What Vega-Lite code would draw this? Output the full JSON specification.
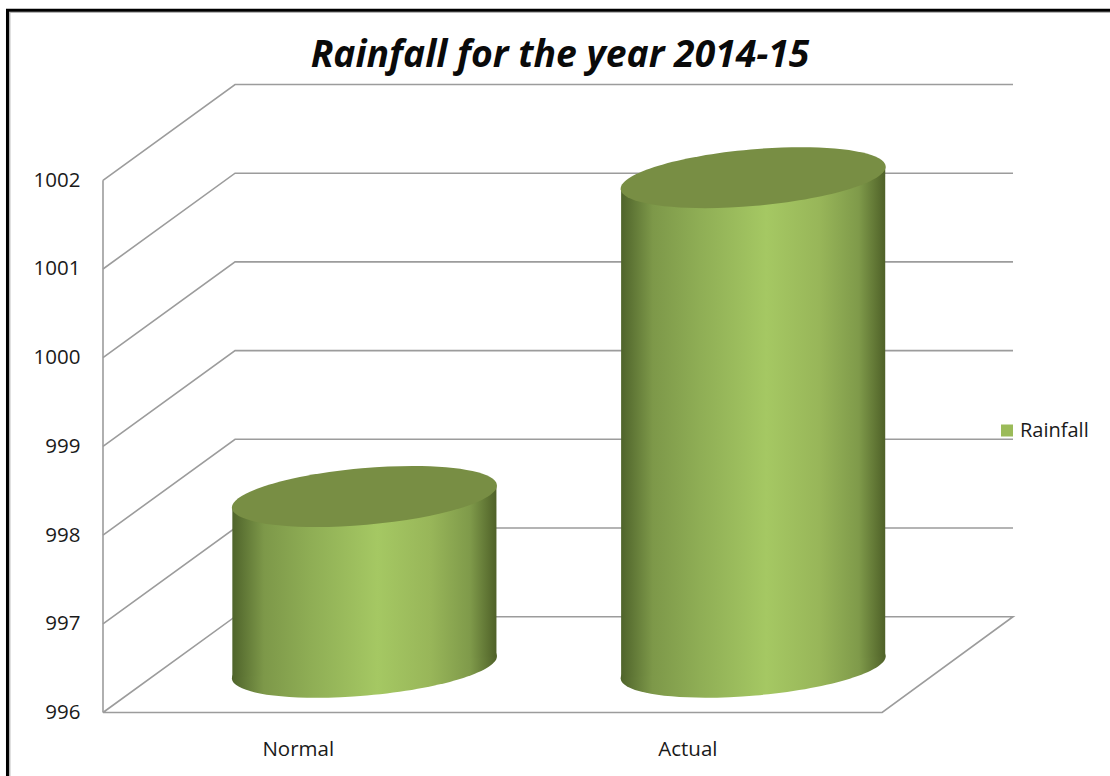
{
"$schema":"https://vega.github.io/schema/vega-lite/v6.json",
"width":910,"height":628,
"autosize":{"type":"none"},
"padding":{"left":103,"top":84.5,"right":97,"bottom":63.5},
"background":"#ffffff",
"title":{"text":"Rainfall for the year 2014-15","font":"Open Sans","fontSize":37.3,"fontWeight":"bold","fontStyle":"italic","color":"#0a0a0a","anchor":"middle","offset":-71,"dx":2},
"config":{"view":{"stroke":null}},
"datasets":{
"grid":[
{"level":"996","i":0,"x":0,"y":996},{"level":"996","i":1,"x":0.339,"y":997.08},{"level":"996","i":2,"x":2.336,"y":997.08},{"level":"996","i":3,"x":2,"y":996},{"level":"996","i":4,"x":0,"y":996},
{"level":"997","i":0,"x":0,"y":997},{"level":"997","i":1,"x":0.339,"y":998.08},{"level":"997","i":2,"x":2.336,"y":998.08},
{"level":"998","i":0,"x":0,"y":998},{"level":"998","i":1,"x":0.339,"y":999.08},{"level":"998","i":2,"x":2.336,"y":999.08},
{"level":"999","i":0,"x":0,"y":999},{"level":"999","i":1,"x":0.339,"y":1000.08},{"level":"999","i":2,"x":2.336,"y":1000.08},
{"level":"1000","i":0,"x":0,"y":1000},{"level":"1000","i":1,"x":0.339,"y":1001.08},{"level":"1000","i":2,"x":2.336,"y":1001.08},
{"level":"1001","i":0,"x":0,"y":1001},{"level":"1001","i":1,"x":0.339,"y":1002.08},{"level":"1001","i":2,"x":2.336,"y":1002.08},
{"level":"1002","i":0,"x":0,"y":1002},{"level":"1002","i":1,"x":0.339,"y":1003.08},{"level":"1002","i":2,"x":2.336,"y":1003.08},
{"level":"axis","i":0,"x":0,"y":996},{"level":"axis","i":1,"x":0,"y":1002}
],
"cylinders":[
{"category":"Normal","series":"Rainfall","x":0.671,"top":998.435,"base":996.51},
{"category":"Actual","series":"Rainfall","x":1.669,"top":1002.03,"base":996.51}
],
"bodies":[
{"category":"Normal","x":0.332,"top":998.31,"base":996.39},
{"category":"Normal","x":1.01,"top":998.56,"base":996.63},
{"category":"Actual","x":1.33,"top":1001.91,"base":996.39},
{"category":"Actual","x":2.008,"top":1002.15,"base":996.63}
]
},
"layer":[
{"data":{"values":[{"x":-0.2396,"y":995.28,"i":0},{"x":-0.2396,"y":1003.895,"i":1},{"x":2.585,"y":1003.895,"i":2}]},
 "mark":{"type":"line","color":"#b5b5b5","strokeWidth":1.5,"clip":false},
 "encoding":{"x":{"field":"x","type":"quantitative"},"y":{"field":"y","type":"quantitative"},"order":{"field":"i"}}},
{"data":{"values":[{"x":-0.2452,"y":995.28,"i":0},{"x":-0.2452,"y":1003.918,"i":1},{"x":2.585,"y":1003.918,"i":2}]},
 "mark":{"type":"line","color":"#000000","strokeWidth":3,"clip":false},
 "encoding":{"x":{"field":"x","type":"quantitative"},"y":{"field":"y","type":"quantitative"},"order":{"field":"i"}}},
{"data":{"name":"grid"},
 "mark":{"type":"line","color":"#9c9c9c","strokeWidth":1.6,"strokeJoin":"miter"},
 "encoding":{
  "x":{"field":"x","type":"quantitative","scale":{"domain":[0,2.336],"nice":false,"zero":false},
   "axis":{"title":null,"grid":false,"domain":false,"ticks":false,"values":[0.5,1.5],"labelExpr":"datum.value==0.5?'Normal':'Actual'","labelFont":"Open Sans","labelFontSize":20.5,"labelColor":"#1a1a1a","labelPadding":27}},
  "y":{"field":"y","type":"quantitative","scale":{"domain":[996,1003.08],"nice":false,"zero":false},
   "axis":{"title":null,"grid":false,"domain":false,"ticks":false,"values":[996,997,998,999,1000,1001,1002],"format":"d","labelFont":"Open Sans","labelFontSize":20.5,"labelColor":"#1a1a1a","labelPadding":23}},
  "detail":{"field":"level"},"order":{"field":"i"}}},
{"data":{"name":"cylinders"},
 "mark":{"type":"point","shape":"square","filled":true,"size":1,"opacity":1},
 "encoding":{
  "x":{"field":"x","type":"quantitative"},"y":{"field":"top","type":"quantitative"},
  "color":{"field":"series","type":"nominal","scale":{"range":["#9bbb59"]},
   "legend":{"title":null,"orient":"none","legendX":894,"legendY":336,"symbolType":"square","symbolSize":144,"symbolStrokeWidth":0,"labelFont":"Open Sans","labelFontSize":20,"labelColor":"#1a1a1a","labelOffset":3,"padding":0}}}},
{"data":{"name":"cylinders"},
 "mark":{"type":"point","filled":true,"opacity":1,"strokeWidth":0,"size":70756,
  "shape":"M -0.9962 0.0872 A 1 0.2128 -5 1 0 0.9962 -0.0872 A 1 0.2128 -5 1 0 -0.9962 0.0872 Z",
  "fill":{"gradient":"linear","stops":[{"offset":0,"color":"#4f642b"},{"offset":0.12,"color":"#7d9849"},{"offset":0.3,"color":"#8fae55"},{"offset":0.55,"color":"#a5c863"},{"offset":0.75,"color":"#98b659"},{"offset":0.9,"color":"#7f9a4a"},{"offset":1,"color":"#4f6128"}]}},
 "encoding":{"x":{"field":"x","type":"quantitative"},"y":{"field":"base","type":"quantitative"}}},
{"data":{"name":"bodies"},
 "mark":{"type":"area","opacity":1,"interpolate":"linear","orient":"vertical",
  "fill":{"gradient":"linear","stops":[{"offset":0,"color":"#4f642b"},{"offset":0.12,"color":"#7d9849"},{"offset":0.3,"color":"#8fae55"},{"offset":0.55,"color":"#a5c863"},{"offset":0.75,"color":"#98b659"},{"offset":0.9,"color":"#7f9a4a"},{"offset":1,"color":"#4f6128"}]}},
 "encoding":{"x":{"field":"x","type":"quantitative"},"y":{"field":"top","type":"quantitative"},"y2":{"field":"base"},"detail":{"field":"category"}}},
{"data":{"name":"cylinders"},
 "mark":{"type":"point","filled":true,"opacity":1,"strokeWidth":0,"size":70756,"fill":"#788e44",
  "shape":"M -0.9962 0.0872 A 1 0.2128 -5 1 0 0.9962 -0.0872 A 1 0.2128 -5 1 0 -0.9962 0.0872 Z"},
 "encoding":{"x":{"field":"x","type":"quantitative"},"y":{"field":"top","type":"quantitative"}}}
]
}
